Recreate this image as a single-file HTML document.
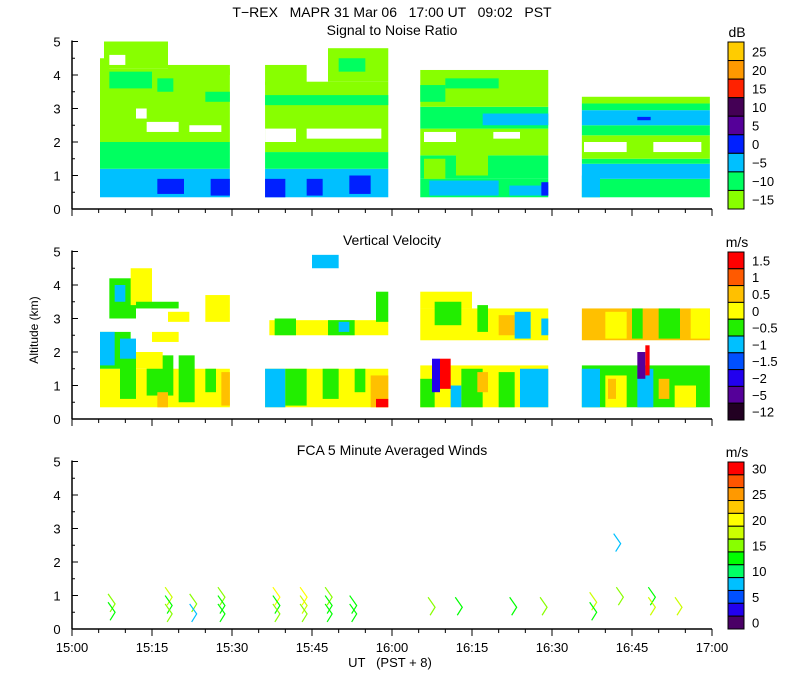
<!DOCTYPE html>
<html><head><meta charset="utf-8"><style>
html,body{margin:0;padding:0;background:#fff;}
svg{display:block;font-family:"Liberation Sans",sans-serif;}
</style></head><body>
<svg id="chart" width="800" height="700" viewBox="0 0 800 700">
<text x="392" y="17" text-anchor="middle" font-size="14" xml:space="preserve">T−REX   MAPR 31 Mar 06   17:00 UT   09:02   PST</text>
<text x="392" y="35" text-anchor="middle" font-size="14">Signal to Noise Ratio</text>
<text x="392" y="245" text-anchor="middle" font-size="14">Vertical Velocity</text>
<text x="392" y="455" text-anchor="middle" font-size="14">FCA 5 Minute Averaged Winds</text>
<text x="38" y="330" text-anchor="middle" font-size="12" transform="rotate(-90 38 330)">Altitude (km)</text>
<text x="390" y="667" text-anchor="middle" font-size="13" xml:space="preserve">UT   (PST + 8)</text>
<text x="737" y="37" text-anchor="middle" font-size="14">dB</text>
<text x="737" y="247" text-anchor="middle" font-size="14">m/s</text>
<text x="737" y="457" text-anchor="middle" font-size="14">m/s</text>
<g id="marks"></g>
<g id="axes"></g>
</svg>
<script>
const snrColors = ["#88ff00","#00ff60","#00c0ff","#0020ff","#550099","#440055","#ff2200","#ff9900","#ffcc00"];
const snrLabels = ["−15","−10","−5","0","5","10","15","20","25"];
const vvColors = ["#ff0000","#ff5a00","#ffc000","#ffff00","#22ee00","#00c0ff","#0050ff","#2200ee","#550099","#220022"];
const vvLabels = ["1.5","1","0.5","0","−0.5","−1","−1.5","−2","−5","−12"];
const windColors = ["#ff0000","#ff5500","#ff9900","#ffc800","#ffff00","#ccff00","#88ff00","#00ff00","#00ff66","#00c0ff","#0050ff","#2200ee","#4a0066"];
const windLabels = ["30","","25","","20","","15","","10","","5","","0"];
const xTickLabels = ["15:00","15:15","15:30","15:45","16:00","16:15","16:30","16:45","17:00"];
const yTickLabels = ["0","1","2","3","4","5"];
// [t0(min after 15:00), t1, alt0(km), alt1, colorIdx (-1 = no data)]
const snrCells = [
[5.25,29.6,0.35,1.2,2],[16,21,0.45,0.9,3],[26,29.6,0.4,0.9,3],[5.25,29.6,1.2,2.0,1],[5.25,29.6,2.0,4.2,0],
[5.25,7,2.6,4.5,0],[6,18,4.2,5,0],[18,29.6,4.0,4.3,0],[7,15,3.6,4.1,1],[16,19,3.5,3.9,1],[25,29.6,3.2,3.5,1],
[14,20,2.3,2.6,-1],[22,28,2.3,2.5,-1],[12,14,2.7,3.0,-1],[7,10,4.3,4.6,-1],
[36.2,59.3,0.35,1.2,2],[36.2,40,0.35,0.9,3],[44,47,0.4,0.9,3],[52,56,0.45,1.0,3],[36.2,59.3,1.2,1.7,1],[36.2,59.3,1.7,3.8,0],
[36.2,42,2.0,2.4,-1],[44,58,2.1,2.4,-1],[36.2,59.3,3.1,3.4,1],[36.2,44,3.7,4.3,0],[48,59.3,3.8,4.8,0],[50,55,4.1,4.5,1],
[65.3,89.3,0.35,0.9,1],[67,80,0.4,0.85,2],[82,89.3,0.4,0.7,2],[65.3,89.3,0.9,1.6,1],[66,70,0.9,1.5,0],[72,78,1.0,1.8,0],
[65.3,89.3,1.6,2.4,0],[66,72,2.0,2.3,-1],[79,84,2.1,2.3,-1],[65.3,89.3,2.4,3.05,1],[77,89.3,2.5,2.85,2],[65.3,89.3,3.05,4.15,0],
[65.3,70,3.2,3.7,1],[70,80,3.6,3.9,1],[88,89.3,0.4,0.8,3],
[95.6,119.6,0.35,0.9,1],[95.6,99,0.35,1.0,2],[95.6,119.6,0.9,1.35,2],[95.6,119.6,1.35,1.5,1],[95.6,119.6,1.5,2.2,0],
[96,104,1.7,2.0,-1],[109,118,1.7,2.0,-1],[95.6,119.6,2.2,2.5,1],[95.6,119.6,2.5,2.95,2],[106,108.5,2.65,2.75,3],
[95.6,119.6,2.95,3.15,1],[95.6,119.6,3.15,3.35,0]
];
const vvCells = [
[5.25,29.6,0.35,1.5,3],[9,12,0.6,2.0,4],[14,19,0.7,1.9,4],[20,23,0.5,1.9,4],[25,27,0.8,1.5,4],[16,18,0.35,0.8,2],[28,29.6,0.4,1.4,2],
[5.25,11,1.5,2.6,4],[5.25,8,1.6,2.6,5],[9,12,1.8,2.4,5],[12,17,1.5,2.0,3],
[7,12,3.0,4.2,4],[8,10,3.5,4.0,5],[11,15,3.4,4.5,3],[18,22,2.9,3.2,3],[25,29.6,2.9,3.7,3],[12,20,3.3,3.5,4],[15,20,2.3,2.6,3],
[36.2,59.3,0.35,1.5,3],[36.2,40,0.35,1.5,5],[40,44,0.4,1.5,4],[47,50,0.6,1.5,4],[53,55,0.8,1.5,4],[56,59.3,0.35,1.3,2],[57,59.3,0.35,0.6,0],
[37,59.3,2.5,2.95,3],[38,42,2.5,3.0,4],[48,53,2.5,2.95,4],[50,52,2.6,2.9,5],[57,59.3,2.9,3.8,4],[45,50,4.5,4.9,5],
[65.3,89.3,2.35,3.3,3],[65.3,75,3.3,3.8,3],[68,73,2.8,3.5,4],[76,78,2.6,3.4,4],[80,83,2.5,3.1,2],[83,86,2.4,3.2,5],[88,89.3,2.5,3.0,5],
[65.3,89.3,0.35,1.6,3],[65.3,68,0.35,1.2,4],[73,77,0.35,1.5,4],[80,83,0.35,1.4,4],[84,89.3,0.35,1.5,5],[71,73,0.35,1.0,5],[76,78,0.8,1.4,2],
[69,71,0.9,1.8,0],[67.5,69,0.8,1.8,7],
[95.6,119.6,2.35,3.3,2],[100,104,2.4,3.2,3],[105,107,2.4,3.3,4],[110,114,2.4,3.3,4],[116,119.6,2.4,3.3,3],
[95.6,119.6,0.35,1.6,4],[95.6,99,0.35,1.5,5],[100,104,0.35,1.3,3],[100.5,102,0.6,1.2,2],[110,112,0.6,1.2,2],[106,109,0.35,1.5,5],[113,117,0.35,1.0,3],
[106,107.5,1.2,2.0,8],[107.5,108.3,1.3,2.2,0]
];
// wind barbs: [time(min), alt(km), colorIdx]
const barbTimes = [7.7,7.7,18.4,18.4,18.4,23,23,28.3,28.3,28.3,38.6,38.6,38.6,43.7,43.7,43.7,48.4,48.4,48.4,53,53,67.7,72.8,83,88.7,98,98,103,109,109,114,102.5];
const barbAlts  = [0.6,0.35,0.8,0.55,0.3,0.6,0.3,0.8,0.55,0.3,0.8,0.55,0.3,0.8,0.55,0.3,0.8,0.55,0.3,0.55,0.3,0.5,0.5,0.5,0.5,0.65,0.35,0.8,0.8,0.5,0.5,2.4];
const barbColor = [6,7,5,7,6,6,9,6,7,7,4,7,6,4,5,6,6,7,7,7,7,6,7,7,6,5,7,6,7,5,5,9];

const NS='http://www.w3.org/2000/svg';
const marks=document.getElementById('marks'), axes=document.getElementById('axes');
const bases=[209,419,629];
const xS=t=>72+t*640/120;
const yS=(p,a)=>bases[p]-a*33.5;
function mk(tag,attrs,parent){const e=document.createElementNS(NS,tag);for(const k in attrs)e.setAttribute(k,attrs[k]);parent.appendChild(e);return e;}

function drawCells(cells,colors,p,name){
  cells.forEach(c=>{
    const x0=xS(c[0]),x1=xS(c[1]),y1=yS(p,c[2]),y0=yS(p,c[3]);
    const r=mk('rect',{x:x0,y:y0,width:x1-x0,height:y1-y0,fill:c[4]<0?'#fff':colors[c[4]]},marks);
    
    
  });
}
drawCells(snrCells,snrColors,0,'snr-cell');
drawCells(vvCells,vvColors,1,'vv-cell');

barbTimes.forEach((t,i)=>{
  const x=xS(t),y=yS(2,barbAlts[i]);
  const pl=mk('polyline',{fill:'none',stroke:windColors[barbColor[i]],'stroke-width':1.2},marks);
  pl.setAttribute('points',`${x-5},${y-15} ${x+2},${y-5} ${x-3},${y+3}`);
  
  
});

for(let p=0;p<3;p++){
  const b=bases[p];
  const ya=mk('line',{x1:72,y1:yS(p,5)-1,x2:72,y2:b,stroke:'#000','stroke-width':1.5},axes);
  
  
  const xa=mk('line',{x1:72,y1:b,x2:712,y2:b,stroke:'#000','stroke-width':1.5},axes);
  
  
  for(let k=0;k<=10;k++){
    const y=yS(p,k/2);
    mk('line',{x1:72,y1:y,x2:k%2?75:78,y2:y,stroke:'#000'},axes);
  }
  yTickLabels.forEach((s,k)=>{
    const tx=mk('text',{x:57,y:yS(p,k)+5,'text-anchor':'middle','font-size':13},axes);
    tx.textContent=s;
    
    
  });
  for(let m=0;m<=120;m+=5){
    const x=xS(m);
    mk('line',{x1:x,y1:b,x2:x,y2:b+(m%15?4:7),stroke:'#000'},axes);
  }
}
xTickLabels.forEach((s,k)=>{
  const tx=mk('text',{x:xS(k*15),y:652,'text-anchor':'middle','font-size':13},axes);
  tx.textContent=s;
  
  
});

function colorbar(colors,labels,top,bot,name){
  const h=(bot-top)/colors.length;
  colors.forEach((c,i)=>{
    const r=mk('rect',{x:728,y:top+i*h,width:16,height:h,fill:c,stroke:'#000','stroke-width':1},axes);
    
    
    if(labels[i]){
      const tx=mk('text',{x:752,y:top+i*h+h/2+5,'font-size':13},axes);
      tx.textContent=labels[i];
      
      
    }
  });
}
colorbar(snrColors.slice().reverse(),snrLabels.slice().reverse(),42,209,'snr-colorbar');
colorbar(vvColors,vvLabels,252,420,'vv-colorbar');
colorbar(windColors,windLabels,462,629,'wind-colorbar');
</script>
</body></html>
